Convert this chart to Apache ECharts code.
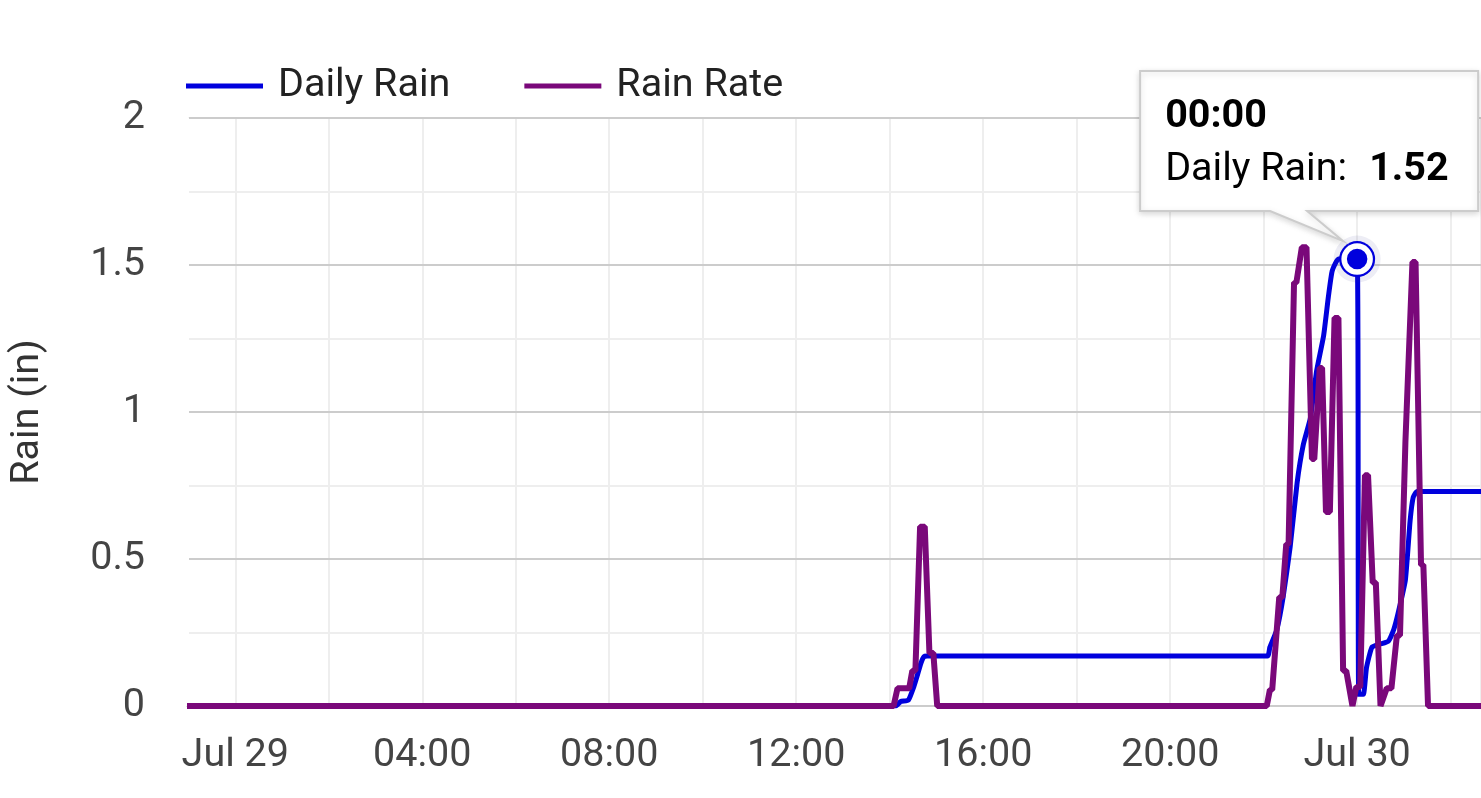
<!DOCTYPE html>
<html>
<head>
<meta charset="utf-8">
<script src="https://cdn.jsdelivr.net/npm/echarts@6/dist/echarts.min.js"></script>
<style>
html,body{margin:0;padding:0;background:#fff;}
#chart{width:1481px;height:798px;}
</style>
</head>
<body>
<div id="chart"></div>
<script>
// ---- data ----
const dailyRainTimes = [
  '2024-07-28 22:58','2024-07-29 14:08','2024-07-29 14:14','2024-07-29 14:24','2024-07-29 14:31',
  '2024-07-29 14:35','2024-07-29 14:40','2024-07-29 14:44','2024-07-29 14:48','2024-07-29 22:05',
  '2024-07-29 22:08','2024-07-29 22:17','2024-07-29 22:25','2024-07-29 22:34','2024-07-29 22:43',
  '2024-07-29 22:51','2024-07-29 23:00','2024-07-29 23:08','2024-07-29 23:17','2024-07-29 23:23',
  '2024-07-29 23:28','2024-07-29 23:36','2024-07-30 00:00','2024-07-30 00:02','2024-07-30 00:08',
  '2024-07-30 00:12','2024-07-30 00:19','2024-07-30 00:29','2024-07-30 00:40','2024-07-30 00:47',
  '2024-07-30 00:53','2024-07-30 01:02','2024-07-30 01:08','2024-07-30 01:12','2024-07-30 01:17',
  '2024-07-30 02:39'
];
const dailyRainValues = [
  0, 0, 0.015, 0.02, 0.066,
  0.10, 0.145, 0.168, 0.17, 0.17,
  0.20, 0.26, 0.37, 0.54, 0.76,
  0.89, 0.98, 1.14, 1.26, 1.39,
  1.48, 1.52, 1.52, 0.04, 0.04,
  0.13, 0.20, 0.21, 0.22, 0.26,
  0.32, 0.43, 0.63, 0.71, 0.73,
  0.73
];
const rainRateTimes = [
  '2024-07-28 22:58','2024-07-29 14:05','2024-07-29 14:10','2024-07-29 14:25','2024-07-29 14:29',
  '2024-07-29 14:33','2024-07-29 14:39','2024-07-29 14:45','2024-07-29 14:51','2024-07-29 14:56',
  '2024-07-29 15:01','2024-07-29 22:04','2024-07-29 22:08','2024-07-29 22:11','2024-07-29 22:20',
  '2024-07-29 22:24','2024-07-29 22:29','2024-07-29 22:32','2024-07-29 22:39','2024-07-29 22:42',
  '2024-07-29 22:49','2024-07-29 22:55','2024-07-29 23:02','2024-07-29 23:05','2024-07-29 23:12',
  '2024-07-29 23:15','2024-07-29 23:20','2024-07-29 23:25','2024-07-29 23:31','2024-07-29 23:36',
  '2024-07-29 23:42','2024-07-29 23:46','2024-07-29 23:54','2024-07-29 23:59','2024-07-30 00:04',
  '2024-07-30 00:10','2024-07-30 00:14','2024-07-30 00:20','2024-07-30 00:24','2024-07-30 00:30',
  '2024-07-30 00:38','2024-07-30 00:44','2024-07-30 00:51','2024-07-30 00:55','2024-07-30 01:02',
  '2024-07-30 01:04','2024-07-30 01:11','2024-07-30 01:15','2024-07-30 01:22','2024-07-30 01:25',
  '2024-07-30 01:31','2024-07-30 02:39'
];
const rainRateValues = [
  0, 0, 0.06, 0.06, 0.12,
  0.12, 0.61, 0.61, 0.18, 0.18,
  0, 0, 0.055, 0.055, 0.37,
  0.37, 0.55, 0.55, 1.44, 1.44,
  1.56, 1.56, 0.84, 0.84, 1.15,
  1.15, 0.66, 0.66, 1.32, 1.32,
  0.12, 0.12, 0, 0.065, 0.065,
  0.785, 0.785, 0.42, 0.42, 0,
  0.06, 0.06, 0.24, 0.24, 0.9,
  0.9, 1.51, 1.51, 0.48, 0.48,
  0, 0
];
const seriesNames = ['Daily Rain', 'Rain Rate'];
const axisStart = '2024-07-28 22:58';
const axisEnd = '2024-07-30 02:39';
const yTickValues = [0, 0.5, 1, 1.5, 2];
const monthNames = ['Jan','Feb','Mar','Apr','May','Jun','Jul','Aug','Sep','Oct','Nov','Dec'];
const tooltipTime = '2024-07-30 00:00';

// ---- helpers ----
function ts(s) {
  const [d, t] = s.split(' ');
  const [Y, M, D] = d.split('-').map(Number);
  const [h, m] = t.split(':').map(Number);
  return new Date(Y, M - 1, D, h, m).getTime();
}
function pad(n) { return (n < 10 ? '0' : '') + n; }
const zip = (times, vals) => times.map((t, i) => [ts(t), vals[i]]);

const BLUE = '#0000dd';
const PURPLE = '#7a087a';
const FONT = 'Roboto';
const FS = 39.5;

const tipIdx = dailyRainTimes.indexOf(tooltipTime);
const tipCoord = [ts(dailyRainTimes[tipIdx]), dailyRainValues[tipIdx]];

const chart = echarts.init(document.getElementById('chart'));
chart.setOption({
  animation: false,
  textStyle: { fontFamily: FONT },
  legend: {
    left: 186, top: 66, padding: 0,
    icon: 'rect', itemWidth: 77, itemHeight: 5, itemGap: 74,
    textStyle: { fontSize: FS, color: '#222', fontFamily: FONT, padding: [0, 0, 0, 10] },
    data: seriesNames
  },
  grid: { left: 186, right: 0, top: 118, bottom: 92 },
  xAxis: {
    type: 'time', z: 1,
    min: ts(axisStart), max: ts(axisEnd),
    minInterval: 3 * 3600 * 1000, maxInterval: 3 * 3600 * 1000,
    axisLine: { show: true, lineStyle: { color: '#333', width: 2 } },
    axisTick: { show: false },
    splitLine: { show: true, lineStyle: { color: '#eeeeee', width: 2 } },
    axisLabel: {
      fontSize: FS, color: '#444', margin: 30, fontFamily: FONT,
      showMinLabel: false, showMaxLabel: false,
      formatter: function (v) {
        const d = new Date(v);
        if (d.getMinutes() !== 0 || d.getHours() % 4 !== 0) return '';
        if (d.getHours() === 0) return monthNames[d.getMonth()] + ' ' + d.getDate();
        return pad(d.getHours()) + ':' + pad(d.getMinutes());
      }
    }
  },
  yAxis: {
    type: 'value', z: 2, min: yTickValues[0], max: yTickValues[yTickValues.length - 1],
    interval: yTickValues[1] - yTickValues[0],
    name: 'Rain (in)', nameLocation: 'middle', nameGap: 139, nameRotate: 90,
    nameTextStyle: { fontSize: FS, color: '#333', fontFamily: FONT },
    axisLine: { show: true, lineStyle: { color: '#ffffff', width: 3 } }, axisTick: { show: false },
    axisLabel: { fontSize: FS, color: '#444', margin: 42, fontFamily: FONT, padding: [5, 0, 0, 0] },
    splitLine: { show: true, lineStyle: { color: '#cccccc', width: 2 } },
    minorTick: { show: false, splitNumber: 2 },
    minorSplitLine: { show: true, lineStyle: { color: '#eeeeee', width: 2 } }
  },
  series: [
    {
      name: seriesNames[0], type: 'line', data: zip(dailyRainTimes, dailyRainValues),
      showSymbol: false, symbol: 'none', smooth: 0.15, z: 3,
      lineStyle: { color: BLUE, width: 5 }, itemStyle: { color: BLUE },
      markPoint: {
        silent: true, symbol: 'circle', label: { show: false }, z: 10,
        data: [
          { coord: tipCoord, symbolSize: 47, itemStyle: { color: 'rgba(60,60,140,0.09)' } },
          { coord: tipCoord, symbolSize: 36, itemStyle: { color: BLUE } },
          { coord: tipCoord, symbolSize: 26, itemStyle: { color: BLUE, borderColor: '#fff', borderWidth: 5.5 } }
        ]
      }
    },
    {
      name: seriesNames[1], type: 'line', data: zip(rainRateTimes, rainRateValues),
      showSymbol: false, symbol: 'none', z: 4,
      lineStyle: { color: PURPLE, width: 6 }, itemStyle: { color: PURPLE }
    }
  ]
});

// ---- static tooltip callout anchored at the highlighted point ----
const p = chart.convertToPixel({ seriesIndex: 0 }, tipCoord);
const L = p[0] - 217, R = p[0] + 121, T = p[1] - 188, B = p[1] - 48;
const d = new Date(tipCoord[0]);
const tipTitle = pad(d.getHours()) + ':' + pad(d.getMinutes());
chart.setOption({
  graphic: [
    {
      type: 'polygon', z: 100,
      shape: { points: [[L, T], [R, T], [R, B], [p[0] - 50, B], [p[0] - 14, p[1] - 18], [p[0] - 87, B], [L, B]] },
      style: { fill: '#fff', stroke: '#cccccc', lineWidth: 2, shadowBlur: 6, shadowColor: 'rgba(0,0,0,0.15)', shadowOffsetY: 2 }
    },
    {
      type: 'text', z: 101,
      style: { text: tipTitle, x: L + 25, y: T + 46, font: 'bold ' + FS + 'px ' + FONT, fill: '#000', textAlign: 'left', textVerticalAlign: 'middle' }
    },
    {
      type: 'text', z: 101,
      style: { text: seriesNames[0] + ':', x: L + 25, y: T + 99, font: FS + 'px ' + FONT, fill: '#000', textAlign: 'left', textVerticalAlign: 'middle' }
    },
    {
      type: 'text', z: 101,
      style: { text: tipCoord[1].toFixed(2), x: L + 229, y: T + 99, font: 'bold ' + FS + 'px ' + FONT, fill: '#000', textAlign: 'left', textVerticalAlign: 'middle' }
    }
  ]
});
</script>
</body>
</html>
